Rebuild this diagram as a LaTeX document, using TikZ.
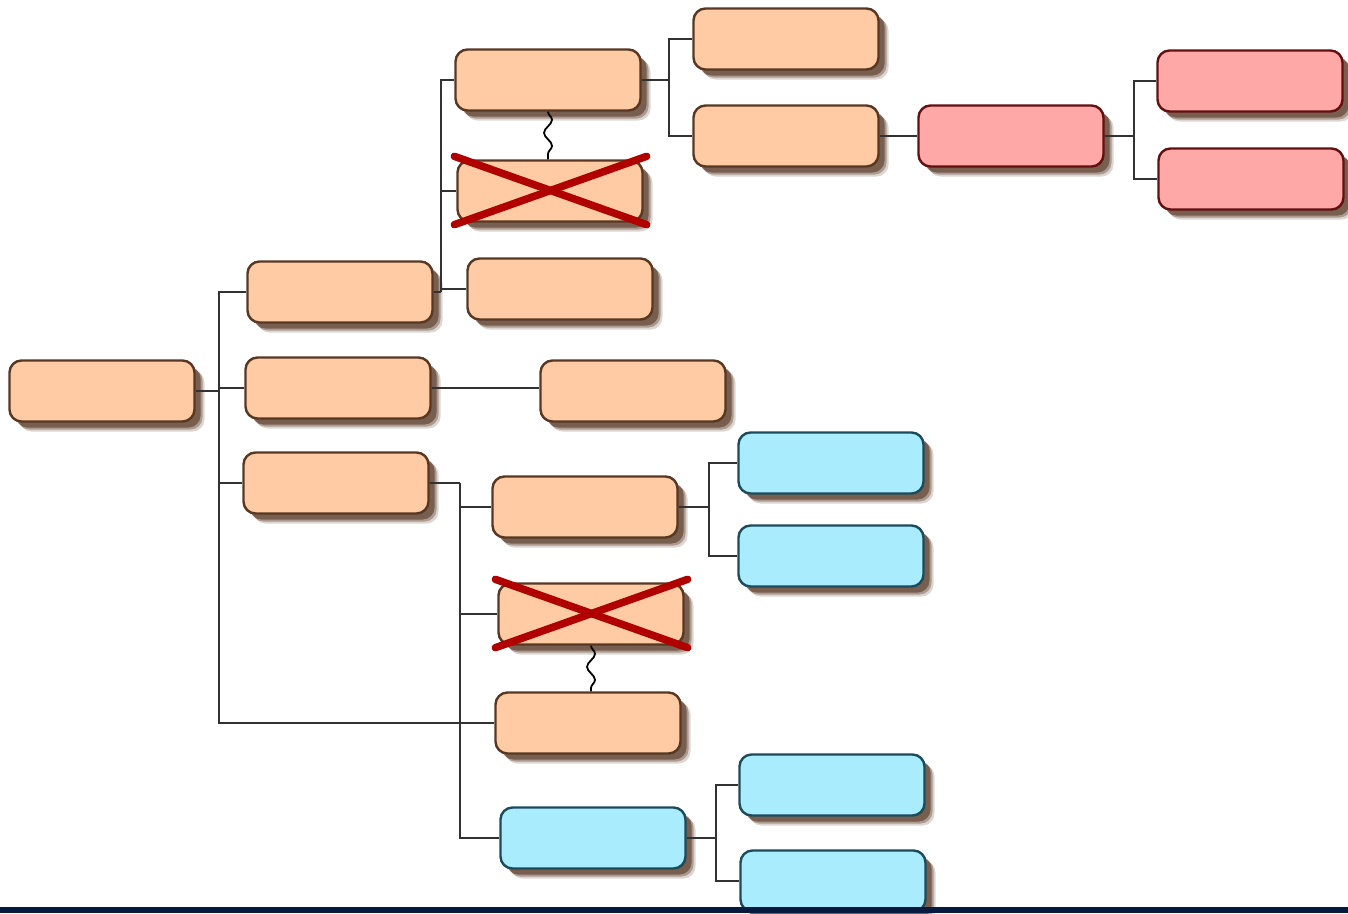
\documentclass[tikz,border=0pt]{standalone}
\usetikzlibrary{shadows,decorations.pathmorphing}
\definecolor{peach}{RGB}{254,203,164}
\definecolor{peachline}{RGB}{88,56,34}
\definecolor{pinkfill}{RGB}{255,168,168}
\definecolor{pinkline}{RGB}{100,16,16}
\definecolor{bluefill}{RGB}{168,236,253}
\definecolor{blueline}{RGB}{28,76,92}
\definecolor{xred}{RGB}{176,0,0}
\definecolor{edgecol}{RGB}{50,50,50}
\definecolor{shadowcol}{RGB}{78,44,24}
\definecolor{barcol}{RGB}{6,26,64}
\tikzset{
  box/.style={draw, rounded corners=12pt, minimum width=185pt, minimum height=61pt,
    line width=2.4pt, inner sep=0pt,
    drop shadow={shadow xshift=10pt, shadow yshift=-10pt, fill=shadowcol, opacity=0.2},
    drop shadow={shadow xshift=8pt, shadow yshift=-8pt, fill=shadowcol, opacity=0.35},
    drop shadow={shadow xshift=6pt, shadow yshift=-6pt, fill=shadowcol, opacity=0.55}},
  orange/.style={box, fill=peach, draw=peachline},
  red/.style={box, fill=pinkfill, draw=pinkline},
  blue/.style={box, fill=bluefill, draw=blueline},
  conn/.style={draw=edgecol, line width=1.4pt},
  wavy/.style={draw=black, line width=1.8pt, decorate, decoration={snake, amplitude=4pt, segment length=26pt}},
  xline/.style={draw=xred, line width=7.5pt, line cap=round}
}
\begin{document}
\begin{tikzpicture}[x=1pt, y=-1pt]
\useasboundingbox (0,0) rectangle (1348,913);
% nodes
\node[orange] (R) at (102,391) {};
\node[orange] (A) at (340,292) {};
\node[orange] (B) at (338,388) {};
\node[orange] (C) at (336,483) {};
\node[orange] (A1) at (548,80) {};
\node[orange] (A2) at (550,191) {};
\node[orange] (A3) at (560,289) {};
\node[orange] (A1a) at (786,39) {};
\node[orange] (A1b) at (786,136) {};
\node[red] (P) at (1011,136) {};
\node[red] (P1) at (1250,81) {};
\node[red] (P2) at (1251,179) {};
\node[orange] (B1) at (633,391) {};
\node[orange] (C1) at (585,507) {};
\node[orange] (C2) at (591,614) {};
\node[orange] (C3) at (588,723) {};
\node[blue] (C4) at (593,838) {};
\node[blue] (C1a) at (831,463) {};
\node[blue] (C1b) at (831,556) {};
\node[blue] (C4a) at (832,785) {};
\node[blue] (C4b) at (833,881) {};
% connectors
\draw[conn] (R.east) -- (219,391) coordinate (rb);
\draw[conn] (rb) |- (A.west);
\draw[conn] (rb) |- (B.west);
\draw[conn] (rb) |- (C.west);
\draw[conn] (rb) |- (C3.west);
\draw[conn] (A.east) -- (441,292) coordinate (ab);
\draw[conn] (ab) |- (A1.west);
\draw[conn] (ab) |- (A2.west);
\draw[conn] (ab) |- (A3.west);
\draw[conn] (B.east) -- (B.east -| B1.west);
\draw[conn] (A1.east) -- (669,80) coordinate (a1b);
\draw[conn] (a1b) |- (A1a.west);
\draw[conn] (a1b) |- (A1b.west);
\draw[conn] (A1b.east) -- (P.west);
\draw[conn] (P.east) -- (1134,136) coordinate (pb);
\draw[conn] (pb) |- (P1.west);
\draw[conn] (pb) |- (P2.west);
\draw[conn] (C.east) -- (460,483) coordinate (cb);
\draw[conn] (cb) |- (C1.west);
\draw[conn] (cb) |- (C2.west);
\draw[conn] (cb) |- (C4.west);
\draw[conn] (C1.east) -- (709,507) coordinate (c1b);
\draw[conn] (c1b) |- (C1a.west);
\draw[conn] (c1b) |- (C1b.west);
\draw[conn] (C4.east) -- (716,838) coordinate (c4b);
\draw[conn] (c4b) |- (C4a.west);
\draw[conn] (c4b) |- (C4b.west);
% wavy links
\draw[wavy] (A1.south) -- (A1.south |- A2.north);
\draw[wavy] (C2.south) -- (C2.south |- C3.north);
% crosses
\draw[xline] ([shift={(-2,-3)}]A2.north west) -- ([shift={(3,2)}]A2.south east);
\draw[xline] ([shift={(-2,2)}]A2.south west) -- ([shift={(3,-3)}]A2.north east);
\draw[xline] ([shift={(-2,-3)}]C2.north west) -- ([shift={(3,2)}]C2.south east);
\draw[xline] ([shift={(-2,2)}]C2.south west) -- ([shift={(3,-3)}]C2.north east);
% bottom bar
\fill[barcol] (0,907) rectangle (1348,913);
\end{tikzpicture}
\end{document}
